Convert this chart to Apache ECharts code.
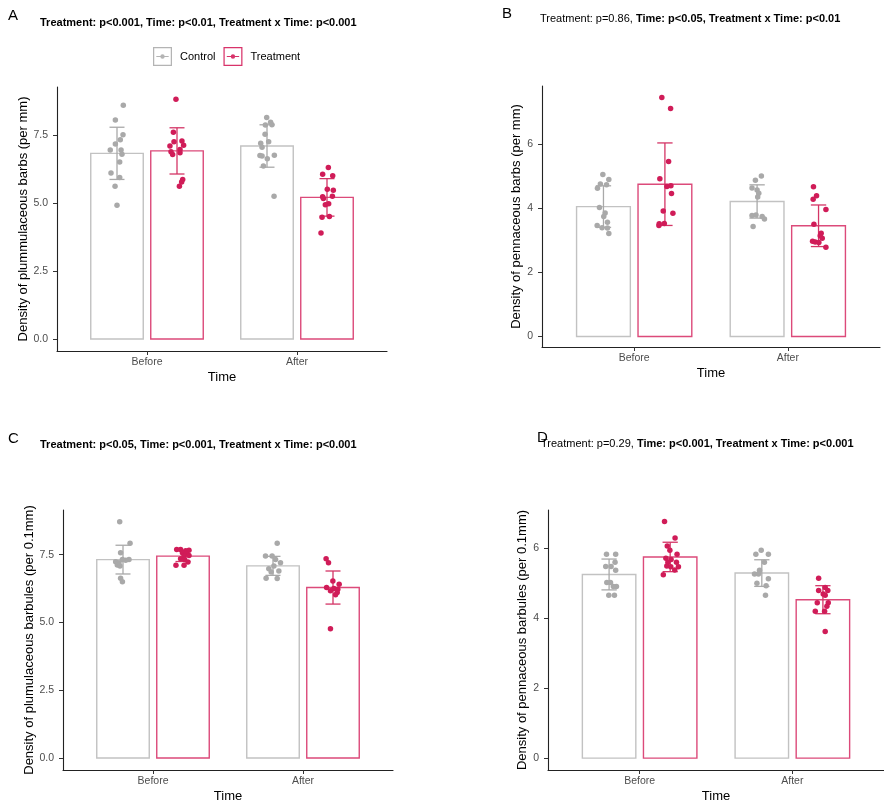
<!DOCTYPE html>
<html>
<head>
<meta charset="utf-8">
<title>Barb and barbule density</title>
<script src="https://cdn.jsdelivr.net/npm/echarts@6/dist/echarts.min.js"></script>
<style>
  html, body { margin: 0; padding: 0; background: #fff; }
  #chart { width: 884px; height: 804px; }
</style>
</head>
<body>
<div id="chart"></div>
<script>
// ---- shared categories ----
const timeLabels = ['Before', 'After'];
const groupNames = ['Control', 'Treatment'];

// ---- A: plumulaceous barbs (per mm) ----
const aMeanControl = [6.83, 7.10];
const aMeanTreatment = [6.92, 5.21];
const aSdControl = [0.96, 0.78];
const aSdTreatment = [0.85, 0.69];
const aControlBefore = [8.60, 8.06, 7.51, 7.33, 7.17, 6.95, 6.95, 6.80, 6.51, 6.11, 5.94, 5.62, 4.92];
const aControlBeforeJitter = [0.042, -0.011, 0.04, 0.022, -0.011, -0.045, 0.027, 0.033, 0.018, -0.04, 0.018, -0.013, 0];
const aTreatmentBefore = [8.82, 7.61, 7.28, 7.26, 7.13, 7.10, 6.97, 6.89, 6.85, 6.79, 5.87, 5.78, 5.62];
const aTreatmentBeforeJitter = [-0.007, -0.024, 0.033, -0.02, 0.044, -0.047, 0.02, -0.04, 0.02, -0.029, 0.038, 0.031, 0.016];
const aControlAfter = [8.15, 7.97, 7.87, 7.88, 7.53, 7.26, 7.20, 7.05, 6.75, 6.73, 6.76, 6.63, 6.36, 5.25];
const aControlAfterJitter = [-0.002, 0.024, -0.011, 0.033, -0.013, 0.011, -0.042, -0.033, -0.047, -0.033, 0.049, 0.002, -0.024, 0.047];
const aTreatmentAfter = [6.31, 6.06, 6.01, 5.51, 5.47, 5.23, 5.25, 5.17, 4.98, 4.94, 4.51, 4.48, 3.90];
const aTreatmentAfterJitter = [0.009, -0.029, 0.038, 0.002, 0.042, -0.029, 0.036, -0.024, 0.011, -0.011, 0.016, -0.033, -0.04];
const aTicks = [0, 2.5, 5, 7.5];

// ---- B: pennaceous barbs (per mm) ----
const bMeanControl = [4.06, 4.22];
const bMeanTreatment = [4.76, 3.46];
const bSdControl = [0.65, 0.52];
const bSdTreatment = [1.29, 0.65];
const bControlBefore = [5.06, 4.77, 4.91, 4.63, 4.74, 4.03, 3.86, 3.75, 3.57, 3.47, 3.40, 3.39, 3.22];
const bControlBeforeJitter = [-0.004, -0.02, 0.035, -0.039, 0.02, -0.026, 0.011, 0.002, 0.026, -0.041, -0.009, 0.026, 0.035];
const bTreatmentBefore = [7.47, 7.13, 5.47, 4.93, 4.71, 4.69, 4.47, 3.92, 3.85, 3.52, 3.53, 3.47];
const bTreatmentBeforeJitter = [-0.02, 0.037, 0.024, -0.033, 0.039, 0.013, 0.043, -0.011, 0.052, -0.037, -0.004, -0.039];
const bControlAfter = [5.02, 4.88, 4.64, 4.58, 4.48, 4.36, 3.78, 3.80, 3.75, 3.67, 3.44];
const bControlAfterJitter = [0.028, -0.011, -0.033, 0, 0.011, 0.004, -0.033, -0.007, 0.033, 0.048, -0.026];
const bTreatmentAfter = [4.68, 4.40, 4.29, 3.97, 3.51, 3.23, 3.15, 3.07, 2.98, 2.95, 2.94, 2.79];
const bTreatmentAfterJitter = [-0.033, -0.013, -0.035, 0.048, -0.03, 0.017, 0.011, 0.024, -0.039, -0.022, 0.002, 0.048];
const bTicks = [0, 2, 4, 6];

// ---- C: plumulaceous barbules (per 0.1mm) ----
const cMeanControl = [7.32, 7.09];
const cMeanTreatment = [7.45, 6.29];
const cSdControl = [0.53, 0.35];
const cSdTreatment = [0.20, 0.61];
const cControlBefore = [8.72, 7.92, 7.57, 7.24, 7.20, 7.32, 7.30, 7.32, 7.12, 7.08, 6.63, 6.50];
const cControlBeforeJitter = [-0.022, 0.047, -0.016, -0.049, -0.027, 0.04, 0.018, -0.004, -0.038, -0.02, -0.016, -0.004];
const cTreatmentBefore = [7.69, 7.69, 7.65, 7.67, 7.57, 7.54, 7.45, 7.47, 7.35, 7.32, 7.23, 7.11, 7.11];
const cTreatmentBeforeJitter = [-0.042, -0.016, 0.018, 0.04, -0.004, 0.024, 0.007, 0.04, -0.016, 0.011, 0.033, -0.047, 0.007];
const cControlAfter = [7.92, 7.45, 7.45, 7.32, 7.20, 7.08, 6.98, 6.90, 6.86, 6.63, 6.62];
const cControlAfterJitter = [0.028, -0.05, -0.006, 0.017, 0.05, 0.006, -0.028, 0.039, -0.012, -0.046, 0.028];
const cTreatmentAfter = [7.35, 7.20, 6.53, 6.41, 6.29, 6.25, 6.23, 6.17, 6.11, 6.02, 4.77];
const cTreatmentAfterJitter = [-0.046, -0.03, -0.001, 0.041, -0.043, 0.006, 0.032, -0.017, 0.028, 0.017, -0.017];
const cTicks = [0, 2.5, 5, 7.5];

// ---- D: pennaceous barbules (per 0.1mm) ----
const dMeanControl = [5.24, 5.28];
const dMeanTreatment = [5.74, 4.52];
const dSdControl = [0.44, 0.38];
const dSdTreatment = [0.42, 0.40];
const dControlBefore = [5.82, 5.82, 5.59, 5.47, 5.47, 5.36, 5.01, 5.01, 4.90, 4.90, 4.65, 4.65];
const dControlBeforeJitter = [-0.017, 0.043, 0.039, -0.022, 0.013, 0.043, -0.015, 0.009, 0.048, 0.028, -0.002, 0.035];
const dTreatmentBefore = [6.75, 6.28, 6.05, 5.93, 5.82, 5.70, 5.67, 5.59, 5.59, 5.48, 5.46, 5.46, 5.37, 5.23];
const dTreatmentBeforeJitter = [-0.037, 0.032, -0.019, -0.002, 0.045, -0.028, 0.006, -0.015, 0.041, -0.022, 0.004, 0.054, 0.03, -0.045];
const dControlAfter = [5.93, 5.82, 5.82, 5.59, 5.36, 5.25, 5.25, 5.12, 4.99, 4.92, 4.65];
const dControlAfterJitter = [-0.004, 0.043, -0.039, 0.017, -0.015, -0.022, -0.048, 0.043, -0.032, 0.028, 0.024];
const dTreatmentAfter = [5.13, 4.87, 4.78, 4.78, 4.68, 4.65, 4.43, 4.43, 4.33, 4.19, 4.19, 3.61];
const dTreatmentAfterJitter = [-0.028, 0.015, -0.028, 0.032, 0.002, 0.015, -0.037, 0.035, 0.026, -0.05, 0.011, 0.015];
const dTicks = [0, 2, 4, 6];

// ---- styling ----
const FONT = '"Liberation Sans", Arial, sans-serif';
const DODGE = 0.2;      // half distance between the two bars of a time point
const BAR_W = 0.35;     // bar width in axis units
const CAP_W = 0.1;      // error bar cap width in axis units
const COLORS = {
  Control:   { point: '#a9a9a9', bar: '#c2c2c2', err: '#a9a9a9' },
  Treatment: { point: '#d01c58', bar: '#dc4a7a', err: '#d43566' }
};

const panels = [
  {
    grid: { left: 57, top: 87, width: 330, height: 264 },
    yMin: -0.44, yMax: 9.27, ticks: aTicks, digits: 1, nameGap: 24,
    yName: 'Density of plummulaceous barbs (per mm)',
    mean: { Control: aMeanControl, Treatment: aMeanTreatment },
    sd: { Control: aSdControl, Treatment: aSdTreatment },
    pts: {
      Control: [[aControlBefore, aControlBeforeJitter], [aControlAfter, aControlAfterJitter]],
      Treatment: [[aTreatmentBefore, aTreatmentBeforeJitter], [aTreatmentAfter, aTreatmentAfterJitter]]
    }
  },
  {
    grid: { left: 542, top: 86, width: 338, height: 261 },
    yMin: -0.33, yMax: 7.83, ticks: bTicks, digits: 0, nameGap: 16,
    yName: 'Density of pennaceous barbs (per mm)',
    mean: { Control: bMeanControl, Treatment: bMeanTreatment },
    sd: { Control: bSdControl, Treatment: bSdTreatment },
    pts: {
      Control: [[bControlBefore, bControlBeforeJitter], [bControlAfter, bControlAfterJitter]],
      Treatment: [[bTreatmentBefore, bTreatmentBeforeJitter], [bTreatmentAfter, bTreatmentAfterJitter]]
    }
  },
  {
    grid: { left: 63, top: 510, width: 330, height: 263 },
    yMin: -0.44, yMax: 9.15, ticks: cTicks, digits: 1, nameGap: 24,
    yName: 'Density of plumulaceous barbules (per 0.1mm)',
    mean: { Control: cMeanControl, Treatment: cMeanTreatment },
    sd: { Control: cSdControl, Treatment: cSdTreatment },
    pts: {
      Control: [[cControlBefore, cControlBeforeJitter], [cControlAfter, cControlAfterJitter]],
      Treatment: [[cTreatmentBefore, cTreatmentBeforeJitter], [cTreatmentAfter, cTreatmentAfterJitter]]
    }
  },
  {
    grid: { left: 548, top: 510, width: 339, height: 263 },
    yMin: -0.34, yMax: 7.08, ticks: dTicks, digits: 0, nameGap: 12,
    yName: 'Density of pennaceous barbules (per 0.1mm)',
    mean: { Control: dMeanControl, Treatment: dMeanTreatment },
    sd: { Control: dSdControl, Treatment: dSdTreatment },
    pts: {
      Control: [[dControlBefore, dControlBeforeJitter], [dControlAfter, dControlAfterJitter]],
      Treatment: [[dTreatmentBefore, dTreatmentBeforeJitter], [dTreatmentAfter, dTreatmentAfterJitter]]
    }
  }
];

const grids = [], xAxes = [], yAxes = [], series = [];

panels.forEach((p, i) => {
  grids.push(p.grid);
  xAxes.push({
    type: 'value', gridIndex: i, min: 0.4, max: 2.6,
    name: 'Time', nameLocation: 'middle', nameGap: 20,
    nameTextStyle: { fontFamily: FONT, fontSize: 13, color: '#000' },
    axisLine: { onZero: false, lineStyle: { color: '#222', width: 1.1 } },
    axisTick: { customValues: [1, 2], length: 4, lineStyle: { color: '#333' } },
    axisLabel: {
      customValues: [1, 2], margin: 6, fontFamily: FONT, fontSize: 10.5, color: '#4d4d4d',
      formatter: v => timeLabels[Math.round(v) - 1]
    },
    splitLine: { show: false }
  });
  yAxes.push({
    type: 'value', gridIndex: i, min: p.yMin, max: p.yMax,
    name: p.yName, nameLocation: 'middle', nameGap: p.nameGap, nameRotate: 90,
    nameTextStyle: { fontFamily: FONT, fontSize: 13, color: '#000' },
    axisLine: { show: true, onZero: false, lineStyle: { color: '#222', width: 1.1 } },
    axisTick: { show: true, customValues: p.ticks, length: 4, lineStyle: { color: '#333' } },
    axisLabel: {
      customValues: p.ticks, margin: 9, fontFamily: FONT, fontSize: 10.5, color: '#4d4d4d',
      formatter: v => Number(v).toFixed(p.digits)
    },
    splitLine: { show: false }
  });

  groupNames.forEach((g, gi) => {
    const shift = gi === 0 ? -DODGE : DODGE;
    const col = COLORS[g];
    const barData = p.mean[g].map((m, t) => [t + 1 + shift, m, p.sd[g][t]]);

    // bars: outlined rectangles from zero to the group mean
    series.push({
      type: 'custom', name: g, xAxisIndex: i, yAxisIndex: i, z: 1,
      itemStyle: { color: col.point },
      data: barData,
      renderItem: (params, api) => {
        const x = api.value(0), y = api.value(1);
        const tl = api.coord([x - BAR_W / 2, y]);
        const br = api.coord([x + BAR_W / 2, 0]);
        return {
          type: 'rect',
          shape: { x: tl[0], y: tl[1], width: br[0] - tl[0], height: br[1] - tl[1] },
          style: { fill: '#ffffff', stroke: col.bar, lineWidth: 1.4 }
        };
      }
    });

    // error bars: mean ± sd with caps
    series.push({
      type: 'custom', name: g + ' sd', xAxisIndex: i, yAxisIndex: i, z: 2,
      data: barData,
      renderItem: (params, api) => {
        const x = api.value(0), y = api.value(1), s = api.value(2);
        const top = api.coord([x, y + s]);
        const bot = api.coord([x, y - s]);
        const half = (api.coord([x + CAP_W / 2, 0])[0] - api.coord([x - CAP_W / 2, 0])[0]) / 2;
        const st = { stroke: col.err, lineWidth: 1.3 };
        return {
          type: 'group',
          children: [
            { type: 'line', shape: { x1: top[0], y1: top[1], x2: bot[0], y2: bot[1] }, style: st },
            { type: 'line', shape: { x1: top[0] - half, y1: top[1], x2: top[0] + half, y2: top[1] }, style: st },
            { type: 'line', shape: { x1: bot[0] - half, y1: bot[1], x2: bot[0] + half, y2: bot[1] }, style: st }
          ]
        };
      }
    });

    // individual observations, jittered horizontally
    const pts = [];
    p.pts[g].forEach((pair, t) => {
      const vals = pair[0], jit = pair[1];
      vals.forEach((v, k) => pts.push([t + 1 + shift + jit[k], v]));
    });
    series.push({
      type: 'scatter', name: g + ' obs', xAxisIndex: i, yAxisIndex: i, z: 3,
      symbolSize: 5.5, itemStyle: { color: col.point, opacity: 1 },
      silent: true, data: pts
    });
  });
});

// legend key: outlined square holding a short line and a dot
const KEY = 'path://M0 0H20V20H0Z M1.3 1.3V18.7H18.7V1.3Z M3.5 9.4H16.5V10.6H3.5Z ' +
  'M12.3 10A2.3 2.3 0 1 1 7.7 10A2.3 2.3 0 1 1 12.3 10Z';

const bold = { fontFamily: FONT, fontSize: 11, fontWeight: 'bold', color: '#000' };
const plain = { fontFamily: FONT, fontSize: 11, fontWeight: 'normal', color: '#000' };
const letter = { fontFamily: FONT, fontSize: 15, fontWeight: 'normal', color: '#000' };

const option = {
  backgroundColor: '#ffffff',
  animation: false,
  title: [
    { text: 'A', left: 8, top: 8, padding: 0, textStyle: letter },
    { text: 'Treatment: p<0.001, Time: p<0.01, Treatment x Time: p<0.001', left: 40, top: 17, padding: 0, textStyle: bold },
    { text: 'B', left: 502, top: 6, padding: 0, textStyle: letter },
    { text: '{n|Treatment: p=0.86, }{b|Time: p<0.05, Treatment x Time: p<0.01}', left: 540, top: 13, padding: 0,
      textStyle: { rich: { n: plain, b: bold } } },
    { text: 'C', left: 8, top: 431, padding: 0, textStyle: letter },
    { text: 'Treatment: p<0.05, Time: p<0.001, Treatment x Time: p<0.001', left: 40, top: 439, padding: 0, textStyle: bold },
    { text: 'D', left: 537, top: 430, padding: 0, textStyle: letter },
    { text: '{n|Treatment: p=0.29, }{b|Time: p<0.001, Treatment x Time: p<0.001}', left: 541, top: 438, padding: 0,
      textStyle: { rich: { n: plain, b: bold } } }
  ],
  legend: {
    left: 153, top: 47, padding: 0, itemWidth: 19, itemHeight: 19, itemGap: 8, selectedMode: false,
    textStyle: { fontFamily: FONT, fontSize: 11, color: '#000', padding: [0, 0, 0, 3] },
    data: [
      { name: 'Control', icon: KEY, itemStyle: { color: '#b4b4b4', borderWidth: 0 } },
      { name: 'Treatment', icon: KEY, itemStyle: { color: '#d8336a', borderWidth: 0 } }
    ]
  },
  grid: grids,
  xAxis: xAxes,
  yAxis: yAxes,
  series: series
};

const chart = echarts.init(document.getElementById('chart'), null, { renderer: 'canvas' });
chart.setOption(option);
</script>
</body>
</html>
